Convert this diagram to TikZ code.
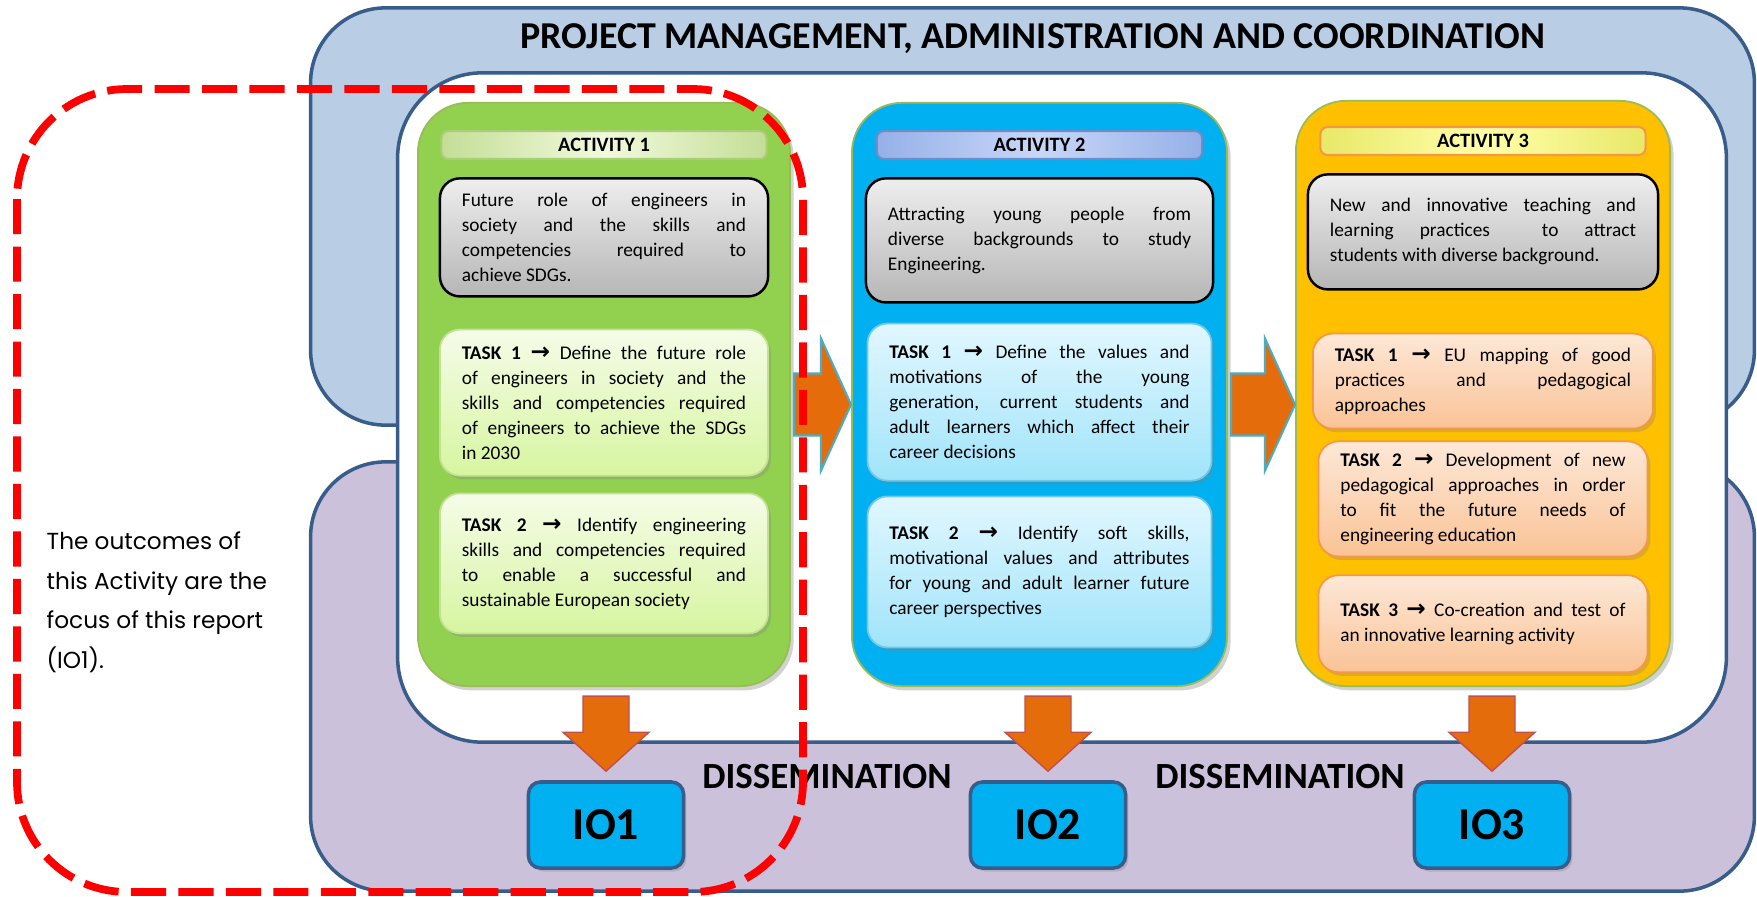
\documentclass[tikz,border=0pt]{standalone}
\usepackage{fontspec}
\setmainfont{Carlito}
\newfontfamily\notefont{Poppins}
\newfontfamily\arrowfont{DejaVu Sans}
\usepackage{tikz}
\usetikzlibrary{positioning,calc,shadows}

\definecolor{pmblue}    {RGB}{185,205,229}
\definecolor{dissviolet}{RGB}{204,193,218}
\definecolor{frameblue} {RGB}{56,93,138}
\definecolor{actgreen}  {RGB}{146,208,80}
\definecolor{actcyan}   {RGB}{0,176,240}
\definecolor{actamber}  {RGB}{255,192,0}
\definecolor{actrim}    {RGB}{155,187,89}
\definecolor{arrorange} {RGB}{228,108,10}
\definecolor{arrrim}    {RGB}{75,172,198}
\definecolor{downrim}   {RGB}{192,80,77}
\definecolor{dashred}   {RGB}{255,0,0}
\definecolor{hagedge}   {RGB}{196,222,150}
\definecolor{hagmid}    {RGB}{240,250,220}
\definecolor{hagrim}    {RGB}{170,205,120}
\definecolor{hacedge}   {RGB}{150,176,232}
\definecolor{hacmid}    {RGB}{200,215,248}
\definecolor{hacrim}    {RGB}{110,140,200}
\definecolor{haaedge}   {RGB}{232,232,105}
\definecolor{haamid}    {RGB}{255,255,170}
\definecolor{haarim}    {RGB}{247,150,70}
\definecolor{desctop}   {RGB}{238,238,238}
\definecolor{descbot}   {RGB}{182,182,182}
\definecolor{tagtop}    {RGB}{245,252,232}
\definecolor{tagbot}    {RGB}{215,245,160}
\definecolor{tagrim}    {RGB}{195,225,150}
\definecolor{tactop}    {RGB}{225,247,255}
\definecolor{tacbot}    {RGB}{160,228,250}
\definecolor{tacrim}    {RGB}{110,200,230}
\definecolor{taatop}    {RGB}{253,232,215}
\definecolor{taabot}    {RGB}{250,195,150}
\definecolor{taarim}    {RGB}{247,150,70}

\tikzset{
  panel/.style   ={draw=frameblue, line width=1pt, rounded corners=0.75cm},
  actbox/.style  ={draw=actrim, line width=0.5pt, rounded corners=0.5cm,
                   drop shadow={opacity=0.35, shadow xshift=1pt, shadow yshift=-1.2pt}},
  hdrbox/.style  ={rounded corners=2pt, line width=0.6pt, inner sep=0pt,
                   minimum width=3.25cm, minimum height=0.28cm,
                   font=\fontsize{5.8}{7}\selectfont\bfseries},
  textbox/.style ={align=justify, text width=#1, inner xsep=0.22cm,
                   font=\fontsize{5.5}{7.1}\selectfont},
  descbox/.style ={textbox=#1, draw=black, line width=0.7pt, rounded corners=0.2cm,
                   top color=desctop, bottom color=descbot},
  taskbox/.style ={textbox=#1, line width=0.5pt, rounded corners=0.2cm,
                   drop shadow={opacity=0.3, shadow xshift=0.8pt, shadow yshift=-1pt}},
  taskag/.style  ={taskbox=#1, draw=tagrim, top color=tagtop, bottom color=tagbot},
  taskac/.style  ={taskbox=#1, draw=tacrim, top color=tactop, bottom color=tacbot},
  taskaa/.style  ={taskbox=#1, draw=taarim, top color=taatop, bottom color=taabot},
  iobox/.style   ={draw=frameblue, line width=1pt, fill=actcyan, rounded corners=0.12cm,
                   minimum width=1.55cm, minimum height=0.86cm,
                   font=\fontsize{13}{15}\selectfont\bfseries,
                   drop shadow={opacity=0.3, shadow xshift=0.8pt, shadow yshift=-1pt}},
  disslabel/.style={font=\fontsize{10.5}{12}\selectfont\bfseries, inner sep=0pt},
  sidearr/.style ={fill=arrorange, draw=arrrim, line width=0.6pt, line join=miter},
  downarr/.style ={fill=arrorange, draw=downrim, line width=0.4pt, line join=miter},
  focusline/.style={draw=dashred, line width=2.2pt, dash pattern=on 10pt off 3.5pt,
                   rounded corners=1.1cm},
}
\newcommand{\tasklabel}[1]{\textbf{TASK #1 {\arrowfont\bfseries\fontsize{6.6}{7}\selectfont →}}}
% fat arrow between two activities
\newcommand{\sidefat}[2]{%
  \coordinate (s) at ($(#1.east)+(3,10)$);
  \coordinate (t) at (#2.west |- s);
  \draw[sidearr] ($(s)+(0,-31)$) -- ($(t)+(-30,-31)$) -- ($(t)+(-30,-66)$) -- (t)
    -- ($(t)+(-30,66)$) -- ($(t)+(-30,31)$) -- ($(s)+(0,31)$) -- cycle;}
% fat arrow from an activity down to its output
\newcommand{\downfat}[2]{%
  \coordinate (a) at ($(#2.north |- #1.south)+(0,9)$);
  \coordinate (b) at ($(#2.north)+(0,-9)$);
  \draw[downarr] ($(a)+(-23,0)$) -- ($(b)+(-23,-39)$) -- ($(b)+(-43,-39)$) -- (b)
    -- ($(b)+(43,-39)$) -- ($(b)+(23,-39)$) -- ($(a)+(23,0)$) -- cycle;}

\begin{document}
\begin{tikzpicture}[x=0.01cm, y=-0.01cm]
  \useasboundingbox (0,0) rectangle (1757,896);
  % frames
  \node[panel, fill=pmblue, minimum width=14.43cm, minimum height=4.17cm] (pm) at (1032.5,216.5) {};
  \node[panel, fill=dissviolet, minimum width=14.43cm, minimum height=4.29cm] (diss) at (1032.5,676.5) {};
  \node[panel, fill=white, rounded corners=0.85cm, minimum width=13.28cm, minimum height=6.69cm] (inner) at (1062,407.5) {};
  \node[font=\fontsize{10.8}{13}\selectfont\bfseries, inner sep=0pt] (pmtitle) at ($(pm.north)+(0,32)$)
    {PROJECT MANAGEMENT, ADMINISTRATION AND COORDINATION};

  % activities
  \node[actbox, fill=actgreen, minimum width=3.72cm, minimum height=5.83cm] (act1) at (604,394.5) {};
  \node[actbox, fill=actcyan,  minimum width=3.75cm, minimum height=5.83cm] (act2) at (1039.5,394.5) {};
  \node[actbox, fill=actamber, minimum width=3.74cm, minimum height=5.85cm] (act3) at (1483,393.5) {};

  \node[hdrbox, draw=hagrim, left color=hagedge, right color=hagedge, middle color=hagmid,
        below=0.28cm of act1.north] (hdr1) {ACTIVITY 1};
  \node[hdrbox, draw=hacrim, left color=hacedge, right color=hacedge, middle color=hacmid,
        below=0.28cm of act2.north] (hdr2) {ACTIVITY 2};
  \node[hdrbox, draw=haarim, left color=haaedge, right color=haaedge, middle color=haamid,
        below=0.26cm of act3.north] (hdr3) {ACTIVITY 3};

  \node[descbox=2.84cm, minimum height=1.18cm, below=0.17cm of hdr1] (desc1)
    {Future role of engineers in\linebreak society and the skills and\linebreak
     competencies required to\linebreak achieve SDGs.};
  \node[descbox=3.03cm, minimum height=1.24cm, below=0.17cm of hdr2] (desc2)
    {Attracting young people from\linebreak diverse backgrounds to study\linebreak Engineering.};
  \node[descbox=3.06cm, minimum height=1.15cm, below=0.17cm of hdr3] (desc3)
    {New and innovative teaching and\linebreak learning practices\ \ to attract\linebreak
     students with diverse background.};

  \node[taskag=2.84cm, minimum height=1.46cm, below=0.31cm of desc1] (task11)
    {\tasklabel{1} Define the future role\linebreak of engineers in society and the\linebreak
     skills and competencies required\linebreak of engineers to achieve the SDGs\linebreak in 2030};
  \node[taskag=2.84cm, minimum height=1.40cm, below=0.16cm of task11] (task12)
    {\tasklabel{2} Identify engineering\linebreak skills and competencies required\linebreak
     to enable a successful and\linebreak sustainable European society};

  \node[taskac=3.0cm, minimum height=1.57cm, below=0.19cm of desc2] (task21)
    {\tasklabel{1} Define the values and\linebreak motivations of the young\linebreak
     generation, current students and\linebreak adult learners which affect their\linebreak career decisions};
  \node[taskac=3.0cm, minimum height=1.51cm, below=0.14cm of task21] (task22)
    {\tasklabel{2} Identify soft skills,\linebreak motivational values and attributes\linebreak
     for young and adult learner future\linebreak career perspectives};

  \node[taskaa=2.96cm, minimum height=0.95cm, below=0.42cm of desc3] (task31)
    {\tasklabel{1} EU mapping of good\linebreak practices and pedagogical\linebreak approaches};
  \node[taskaa=2.85cm, minimum height=1.01cm, below=0.11cm of task31] (task32)
    {\tasklabel{2} Development of new\linebreak pedagogical approaches in order\linebreak
     to fit the future needs of\linebreak engineering education};
  \node[taskaa=2.85cm, minimum height=0.97cm, below=0.17cm of task32] (task33)
    {\tasklabel{3} Co-creation and test of\linebreak an innovative learning activity};

  % outputs
  \node[iobox] (io1) at (606,825) {IO1};
  \node[iobox] (io2) at (1048,825) {IO2};
  \node[iobox] (io3) at (1492,825) {IO3};
  \node[disslabel] (dissa) at ($(io1.east)!0.5!(io2.west)+(0,-48)$) {DISSEMINATION};
  \node[disslabel] (dissb) at ($(io2.east)!0.5!(io3.west)+(10,-48)$) {DISSEMINATION};

  \sidefat{act1}{act2}
  \sidefat{act2}{act3}
  \downfat{act1}{io1}
  \downfat{act2}{io2}
  \downfat{act3}{io3}

  % focus of the report
  \node[anchor=north west, inner sep=0pt, align=left,
        font=\notefont\fontsize{6.6}{11.3}\selectfont] (note) at (46,531)
    {The outcomes of\\this Activity are the\\focus of this report\\(IO1).};
  \draw[focusline] (17,89) rectangle (803,892);
\end{tikzpicture}
\end{document}
